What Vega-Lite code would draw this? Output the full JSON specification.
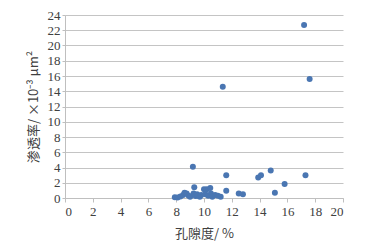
{
  "$schema": "https://vega.github.io/schema/vega-lite/v6.json",
  "autosize": "none",
  "width": 278,
  "height": 183,
  "padding": {"left": 65, "top": 15, "right": 47, "bottom": 51},
  "background": "white",
  "config": {"view": {"stroke": null}},
  "data": {"values": [
    {"phi": 7.9, "k": 0.1}, {"phi": 8.1, "k": 0.05}, {"phi": 8.3, "k": 0.2},
    {"phi": 8.5, "k": 0.4}, {"phi": 8.6, "k": 0.7}, {"phi": 8.75, "k": 0.6},
    {"phi": 8.9, "k": 0.3}, {"phi": 9.0, "k": 0.15}, {"phi": 9.2, "k": 4.1},
    {"phi": 9.25, "k": 0.6}, {"phi": 9.3, "k": 1.4}, {"phi": 9.4, "k": 0.25},
    {"phi": 9.5, "k": 0.5}, {"phi": 9.6, "k": 0.3}, {"phi": 9.7, "k": 0.15},
    {"phi": 9.8, "k": 0.4}, {"phi": 10.0, "k": 1.15}, {"phi": 10.1, "k": 0.5},
    {"phi": 10.2, "k": 1.15}, {"phi": 10.3, "k": 0.3}, {"phi": 10.45, "k": 1.3},
    {"phi": 10.5, "k": 0.6}, {"phi": 10.6, "k": 0.15}, {"phi": 10.8, "k": 0.4},
    {"phi": 11.0, "k": 0.3}, {"phi": 11.2, "k": 0.15}, {"phi": 11.35, "k": 14.6},
    {"phi": 11.6, "k": 3.0}, {"phi": 11.6, "k": 0.95}, {"phi": 12.5, "k": 0.6},
    {"phi": 12.8, "k": 0.5}, {"phi": 13.9, "k": 2.7}, {"phi": 14.1, "k": 3.0},
    {"phi": 14.8, "k": 3.6}, {"phi": 15.1, "k": 0.7}, {"phi": 15.8, "k": 1.85},
    {"phi": 17.2, "k": 22.7}, {"phi": 17.3, "k": 3.0}, {"phi": 17.6, "k": 15.6}
  ]},
  "mark": {"type": "circle", "size": 36, "color": "#4a76b2", "opacity": 1},
  "encoding": {
    "x": {
      "field": "phi", "type": "quantitative",
      "scale": {"domain": [0, 20], "nice": false, "zero": false},
      "axis": {
        "values": [0, 2, 4, 6, 8, 10, 12, 14, 16, 18, 20],
        "grid": false,
        "domainColor": "#bfbfbf", "tickColor": "#bfbfbf", "tickSize": 4,
        "labelFont": "Liberation Serif", "labelFontSize": 13, "labelColor": "#404040",
        "labelPadding": 3,
        "title": "孔隙度/ %",
        "titleFont": "Noto Sans CJK SC", "titleFontSize": 13, "titleFontWeight": "normal",
        "titleColor": "#404040", "titlePadding": 9
      }
    },
    "y": {
      "field": "k", "type": "quantitative",
      "scale": {"domain": [0, 24], "nice": false},
      "axis": {
        "values": [0, 2, 4, 6, 8, 10, 12, 14, 16, 18, 20, 22, 24],
        "grid": true, "gridColor": "#c4c4c4", "gridWidth": 1,
        "domainColor": "#bfbfbf", "tickColor": "#bfbfbf", "tickSize": 3,
        "labelFont": "Liberation Serif", "labelFontSize": 13, "labelColor": "#404040",
        "labelPadding": 2,
        "title": "渗透率/ ×10⁻³ μm²",
        "titleFont": "Noto Sans CJK SC", "titleFontSize": 13, "titleFontWeight": "normal",
        "titleColor": "#404040", "titlePadding": 7
      }
    }
  }
}
